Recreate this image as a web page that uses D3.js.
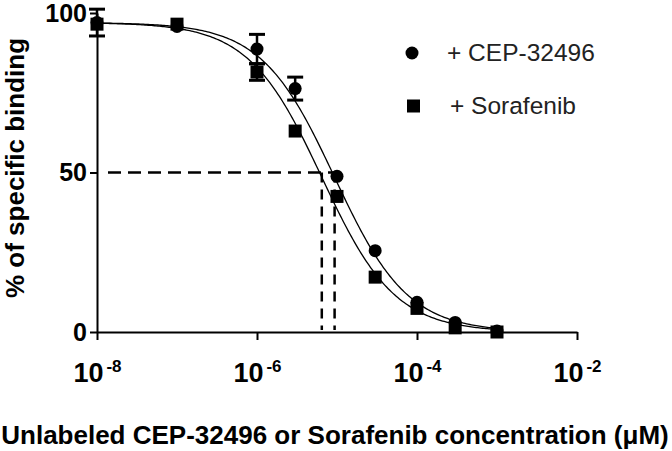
<!DOCTYPE html>
<html>
<head>
<meta charset="utf-8">
<script src="https://cdn.jsdelivr.net/npm/d3@7"></script>
<style>
  body { margin: 0; background: #fff; }
  svg { display: block; font-family: "Liberation Sans", Arial, sans-serif; }
  .axis path, .axis line { stroke: #000; stroke-width: 2px; }
</style>
</head>
<body>
<svg id="chart" width="672" height="451"></svg>
<script>
// concentrations (uM) and measured % specific binding
const conc = [1e-8, 1e-7, 1e-6, 3e-6, 1e-5, 3e-5, 1e-4, 3e-4, 1e-3];
const cepMean = [97, 95.8, 88.7, 76.3, 48.8, 25.5, 9.3, 3, 0.3];
const cepSem  = [4.2, 0.5, 4.6, 3.6, 1, 1, 1, 1, 0.5];
const sorMean = [96.5, 96.5, 81.5, 63, 42.5, 17.2, 7.4, 1.3, 0];
const sorSem  = [1, 0.5, 2.6, 1, 1, 1, 1, 0.5, 0.5];

const seriesNames = ["+ CEP-32496", "+ Sorafenib"];
const seriesShapes = ["circle", "square"];
const fitTop = [97, 97];
const fitBottom = [0, 0];
const fitLogIC50 = [-5.03, -5.19];
const fitHill = [-0.95, -0.95];

const xTicks = [1e-8, 1e-6, 1e-4, 1e-2];
const yTicks = [0, 50, 100];
const xTitle = "Unlabeled CEP-32496 or Sorafenib concentration (\u03bcM)";
const yTitle = "% of specific binding";

const svg = d3.select("#chart");

const x = d3.scaleLog().domain([1e-8, 1e-2]).range([97, 577]);
const y = d3.scaleLinear().domain([0, 100]).range([332, 13]);

const means = [cepMean, sorMean];
const sems = [cepSem, sorSem];

// fitted curves
function fitValue(i, c) {
    return fitBottom[i] + (fitTop[i] - fitBottom[i]) /
        (1 + Math.pow(10, (fitLogIC50[i] - Math.log10(c)) * fitHill[i]));
}
const line = d3.line().x(d => x(d[0])).y(d => y(d[1]));
seriesNames.forEach((name, i) => {
    const pts = d3.range(-8, -2.999, 0.02).map(l => [Math.pow(10, l), fitValue(i, Math.pow(10, l))]);
    svg.append("path")
        .datum(pts)
        .attr("fill", "none")
        .attr("stroke", "#000")
        .attr("stroke-width", 1.3)
        .attr("d", line);
});

// IC50 dashed guides
const ic50 = fitLogIC50.map(l => Math.pow(10, l));
svg.append("line")
    .attr("x1", x(1e-8) + 11).attr("x2", x(d3.max(ic50)))
    .attr("y1", y(50)).attr("y2", y(50))
    .attr("stroke", "#000").attr("stroke-width", 2.5)
    .attr("stroke-dasharray", "13,7");
ic50.forEach(v => {
    svg.append("line")
        .attr("x1", x(v)).attr("x2", x(v))
        .attr("y1", y(50)).attr("y2", y(0) - 2)
        .attr("stroke", "#000").attr("stroke-width", 2.5)
        .attr("stroke-dasharray", "10,7");
});

// axes
const yAxis = svg.append("g")
    .attr("class", "axis")
    .attr("transform", "translate(" + x(1e-8) + ",0)")
    .call(d3.axisLeft(y).tickValues(yTicks).tickSize(7).tickSizeOuter(0).tickPadding(3));
yAxis.selectAll(".tick text")
    .attr("font-size", 25).attr("font-weight", "bold").attr("fill", "#000")
    .attr("font-family", "Liberation Sans, Arial, sans-serif");

const xAxis = svg.append("g")
    .attr("class", "axis")
    .attr("transform", "translate(0," + y(0) + ")")
    .call(d3.axisBottom(x).tickValues(xTicks).tickSize(8).tickSizeOuter(0).tickFormat(""));
xAxis.selectAll(".tick text").remove();
xAxis.selectAll(".tick").append("text")
    .attr("y", 50)
    .attr("text-anchor", "middle")
    .attr("fill", "#000")
    .attr("font-weight", "bold")
    .attr("font-size", 27)
    .each(function(d) {
        const t = d3.select(this);
        t.append("tspan").text("10");
        t.append("tspan").attr("dy", -10).attr("dx", 3).attr("font-size", 17)
            .text("-" + Math.round(-Math.log10(d)));
    });

// error bars and markers
[1, 0].forEach(i => {
    const g = svg.append("g");
    conc.forEach((c, j) => {
        const m = means[i][j], s = sems[i][j];
        const cx = x(c);
        if (s > 1.5) {
            g.append("line").attr("x1", cx).attr("x2", cx)
                .attr("y1", y(m + s)).attr("y2", y(m - s))
                .attr("stroke", "#000").attr("stroke-width", 2.5);
            [m + s, m - s].forEach(v => {
                g.append("line").attr("x1", cx - 8).attr("x2", cx + 8)
                    .attr("y1", y(v)).attr("y2", y(v))
                    .attr("stroke", "#000").attr("stroke-width", 3);
            });
        }
        if (seriesShapes[i] === "circle") {
            g.append("circle").attr("cx", cx).attr("cy", y(m)).attr("r", 6.5).attr("fill", "#000");
        } else {
            g.append("rect").attr("x", cx - 6.5).attr("y", y(m) - 6.5)
                .attr("width", 13).attr("height", 13).attr("fill", "#000");
        }
    });
});

// legend
const legendY = [53, 106];
seriesNames.forEach((name, i) => {
    if (seriesShapes[i] === "circle") {
        svg.append("circle").attr("cx", 412).attr("cy", legendY[i]).attr("r", 6.5).attr("fill", "#000");
    } else {
        svg.append("rect").attr("x", 407).attr("y", legendY[i] - 6.5)
            .attr("width", 13).attr("height", 13).attr("fill", "#000");
    }
    svg.append("text")
        .attr("x", i === 0 ? 447 : 450)
        .attr("y", legendY[i] + 8)
        .attr("font-size", 24.5)
        .attr("fill", "#222")
        .text(name);
});

// axis titles
svg.append("text")
    .attr("x", 335).attr("y", 444)
    .attr("text-anchor", "middle")
    .attr("font-size", 26).attr("font-weight", "bold")
    .text(xTitle);

svg.append("text")
    .attr("transform", "translate(24,168) rotate(-90)")
    .attr("text-anchor", "middle")
    .attr("font-size", 26).attr("font-weight", "bold")
    .text(yTitle);
</script>
</body>
</html>
